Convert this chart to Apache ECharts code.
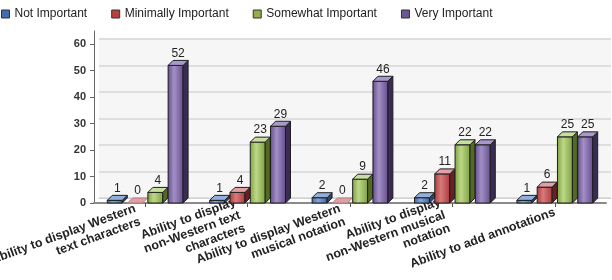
<!DOCTYPE html>
<html>
<head>
<meta charset="utf-8">
<script src="https://cdn.jsdelivr.net/npm/echarts@6/dist/echarts.min.js"></script>
<style>
html,body{margin:0;padding:0;background:#fff;}
#chart{width:612px;height:280px;}
</style>
</head>
<body>
<div id="chart"></div>
<script>
var categories = [
  'Ability to display Western\ntext characters',
  'Ability to display\nnon-Western text\ncharacters',
  'Ability to display Western\nmusical notation',
  'Ability to display\nnon-Western musical\nnotation',
  'Ability to add annotations'
];
var seriesNames = ['Not Important', 'Minimally Important', 'Somewhat Important', 'Very Important'];
var notImportant = [1, 1, 2, 2, 1];
var minimallyImportant = [0, 4, 0, 11, 6];
var somewhatImportant = [4, 23, 9, 22, 25];
var veryImportant = [52, 29, 46, 22, 25];
var yTicks = [0, 10, 20, 30, 40, 50, 60];

var seriesValues = [notImportant, minimallyImportant, somewhatImportant, veryImportant];
var palettes = [
  {legend: '#3f6db0', dark: '#3f64a0', light: '#86a6d6', top: '#8fb0dc', side: '#2a4574'},
  {legend: '#b8403f', dark: '#a83a3e', light: '#d97a7a', top: '#e2a0a4', side: '#6a1f22'},
  {legend: '#8fb04a', dark: '#7fa040', light: '#bcd888', top: '#c8de9e', side: '#526b22'},
  {legend: '#6c5694', dark: '#634c8c', light: '#a390c6', top: '#a898cc', side: '#3a2b55'}
];

var DX = 5, DY = -5;

function makeRender(k) {
  var p = palettes[k];
  return function (params, api) {
    var cat = api.value(0), val = api.value(1);
    var base = api.coord([cat, 0]);
    var topPt = api.coord([cat, val]);
    var band = api.size([1, 0])[0];
    var bw = band * 0.146, pitch = band * 0.198;
    var x0 = base[0] + (k - 1.5) * pitch - bw / 2;
    var x1 = x0 + bw;
    var yb = base[1], yt = topPt[1];
    var stroke = '#1e1e1e';
    var children = [];
    if (yb - yt > 0.5) {
      children.push({
        type: 'rect',
        shape: {x: x0, y: yt, width: bw, height: yb - yt},
        style: {
          fill: new echarts.graphic.LinearGradient(0, 0, 1, 0, [
            {offset: 0, color: p.dark},
            {offset: 0.4, color: p.light},
            {offset: 1, color: p.dark}
          ]),
          stroke: stroke, lineWidth: 1
        }
      });
      children.push({
        type: 'polygon',
        shape: {points: [[x1, yt], [x1 + DX, yt + DY], [x1 + DX, yb + DY], [x1, yb]]},
        style: {fill: p.side, stroke: stroke, lineWidth: 1}
      });
    }
    children.push({
      type: 'polygon',
      shape: {points: [[x0, yt], [x1, yt], [x1 + DX, yt + DY], [x0 + DX, yt + DY]]},
      style: {fill: p.top, stroke: val === 0 ? '#b08080' : stroke, lineWidth: 1}
    });
    children.push({
      type: 'text',
      style: {
        text: String(val),
        x: x0 + bw / 2 + DX / 2,
        y: yt + DY - 1,
        align: 'center',
        verticalAlign: 'bottom',
        fill: '#222',
        font: '12px "Liberation Sans", Arial, sans-serif'
      }
    });
    return {type: 'group', children: children};
  };
}

var series = seriesNames.map(function (name, k) {
  return {
    name: name,
    type: 'custom',
    xAxisIndex: 0,
    yAxisIndex: 0,
    itemStyle: {color: palettes[k].legend, borderColor: '#333', borderWidth: 1},
    renderItem: makeRender(k),
    data: seriesValues[k].map(function (v, i) { return [i, v]; }),
    z: 3
  };
});

var categoryItems = categories.map(function (c) {
  var multi = c.indexOf('\n') >= 0;
  return {value: c, textStyle: {padding: [0, multi ? 8 : 0, 0, 0]}};
});

var chart = echarts.init(document.getElementById('chart'), null, {renderer: 'canvas'});
chart.setOption({
  animation: false,
  backgroundColor: '#fff',
  textStyle: {fontFamily: '"Liberation Sans", Arial, sans-serif'},
  legend: {
    left: 1, top: 8, padding: 0,
    icon: 'rect',
    itemWidth: 8, itemHeight: 8, itemGap: 24,
    textStyle: {fontSize: 12, color: '#222', fontFamily: '"Liberation Sans", Arial, sans-serif'},
    itemStyle: {borderColor: '#333', borderWidth: 1},
    data: seriesNames
  },
  grid: [
    {left: 94, right: 6, top: 31, bottom: 77, containLabel: false, outerBoundsMode: 'none'},
    {left: 99, right: 1, top: 39, bottom: 82, show: true, backgroundColor: '#f6f6f6', borderWidth: 0, containLabel: false, outerBoundsMode: 'none'}
  ],
  xAxis: [
    {
      type: 'category', gridIndex: 0, data: categoryItems,
      axisLine: {show: true, lineStyle: {color: '#8a8a8a', width: 2}},
      axisTick: {show: true, alignWithLabel: true, length: 4, lineStyle: {color: '#555'}},
      axisLabel: {
        interval: 0, rotate: 20, margin: 9, verticalAlign: 'top',
        fontSize: 12.5, fontWeight: 'bold', color: '#222', lineHeight: 14,
        fontFamily: '"Liberation Sans", Arial, sans-serif'
      },
      splitLine: {show: false}
    },
    {
      type: 'category', gridIndex: 1, data: categories,
      axisLine: {show: true, lineStyle: {color: '#d0d0d0', width: 1}},
      axisTick: {show: false}, axisLabel: {show: false}, splitLine: {show: false}
    }
  ],
  yAxis: [
    {
      type: 'value', gridIndex: 0, min: 0, max: 65, interval: 10,
      axisLine: {show: true, lineStyle: {color: '#666', width: 1}},
      axisTick: {show: true, length: 4, lineStyle: {color: '#666'}},
      axisLabel: {
        margin: 8, fontSize: 11, fontWeight: 'bold', color: '#333', showMaxLabel: false,
        fontFamily: '"Liberation Sans", Arial, sans-serif',
        formatter: function (v) { return yTicks.indexOf(v) >= 0 ? String(v) : ''; }
      },
      splitLine: {show: false}
    },
    {
      type: 'value', gridIndex: 1, min: 0, max: 60, interval: 10,
      axisLine: {show: false}, axisTick: {show: false}, axisLabel: {show: false},
      splitLine: {show: true, lineStyle: {color: '#dedede', width: 2}}
    }
  ],
  series: series
});
</script>
</body>
</html>
